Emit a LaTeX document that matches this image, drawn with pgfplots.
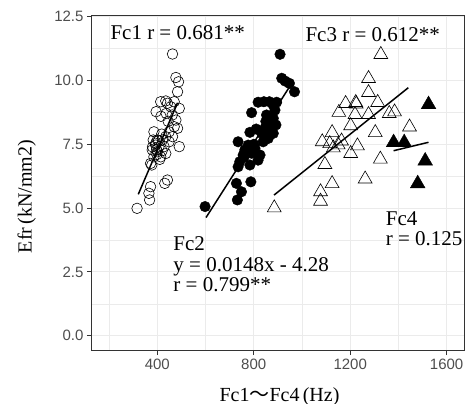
\documentclass[border=0pt]{standalone}
\usepackage{pgfplots}
\pgfplotsset{compat=1.18}
\usepackage{fontspec}
\setmainfont{Liberation Serif}
\newfontfamily\ticksf{Liberation Sans}
\newfontfamily\cjk{Noto Sans CJK JP}
\usetikzlibrary{calc}
\definecolor{gridgray}{HTML}{EBEBEB}
\definecolor{tickgray}{HTML}{4D4D4D}
\definecolor{frame}{HTML}{333333}
\newcommand{\annot}{\fontsize{21bp}{21bp}\selectfont}
\newcommand{\labfont}{\fontsize{20bp}{20bp}\selectfont}

\begin{document}
\begin{tikzpicture}
\begin{axis}[
  name=ax,
  scale only axis,
  width=372.5bp, height=335.7bp,
  xmin=127, xmax=1672,
  ymin=-0.59, ymax=12.57,
  xtick={400,800,1200,1600},
  ytick={0,2.5,5,7.5,10,12.5},
  minor xtick={200,600,1000,1400},
  minor ytick={1.25,3.75,6.25,8.75,11.25},
  grid=both,
  major grid style={draw=gridgray, line width=1bp},
  minor grid style={draw=gridgray, line width=0.5bp},
  axis line style={draw=frame, line width=0.8bp},
  tick align=outside,
  xtick pos=left, ytick pos=left,
  major tick length=4.5bp,
  minor tick length=0pt,
  tick style={draw=frame, line width=0.8bp},
  ticklabel style={font=\ticksf\fontsize{15bp}{15bp}\selectfont, text=tickgray},
  /pgf/number format/assume math mode=true,
  xticklabel style={/pgf/number format/1000 sep={}},
  yticklabel style={/pgf/number format/.cd, fixed, fixed zerofill, precision=1},
  clip=false,
]
% Fc1
\addplot[only marks, mark=o, mark size=5.3bp, mark options={draw=black, line width=0.6bp}] coordinates {
(463,11.04) (477,10.12) (488,9.95) (484,9.56) (491,8.91) (414,9.17) (442,9.11) (470,9.17)
(435,9.20) (456,8.97) (395,8.78) (437,8.71) (462,8.65) (477,8.45) (470,8.19) (484,8.13)
(449,7.99) (386,7.99) (435,7.80) (463,7.80) (383,7.67) (421,7.67) (400,7.67) (449,7.60)
(393,7.54) (393,7.47) (407,7.41) (428,7.41) (491,7.41) (379,7.28) (400,7.21) (435,7.14)
(414,7.01) (386,7.01) (410,6.91) (372,6.75) (377,6.69) (442,6.10) (431,5.97) (372,5.84)
(365,5.58) (368,5.32) (316,4.99) (418,7.90) (405,7.65) (380,7.40) (397,7.30) (445,8.40)
(415,8.60) (398,7.10) (420,7.25)
};
% Fc2
\addplot[only marks, mark=*, mark size=5.3bp, mark options={draw=black, fill=black}] coordinates {
(909,11.03) (916,10.09) (930,9.98) (948,9.89) (969,9.56) (818,9.15) (842,9.17) (895,9.15)
(865,9.17) (791,8.74) (888,8.84) (880,9.05) (853,8.65) (881,8.52) (872,8.26) (892,8.26)
(846,8.13) (833,7.93) (881,7.93) (784,7.97) (860,7.73) (839,7.60) (735,7.60) (777,7.47)
(763,7.28) (805,7.34) (756,7.08) (791,7.15) (826,7.08) (818,6.88) (742,6.82) (784,6.69)
(735,6.62) (728,5.97) (788,6.03) (749,5.64) (732,5.32) (598,5.06) (870,8.00) (855,7.80)
(770,7.20) (800,7.50) (760,7.00) (850,8.40) (810,8.10)
};
% Fc3
\addplot[only marks, mark=triangle, mark size=8bp, mark options={draw=black, line width=0.6bp}] coordinates {
(1327,11.02) (1276,10.08) (1276,9.53) (1314,9.14) (1223,9.14) (1181,9.10) (1225,9.08)
(1153,8.75) (1220,8.67) (1276,8.67) (1362,8.71) (1384,8.77) (1202,8.23) (1446,8.18)
(1125,7.96) (1304,7.96) (1084,7.60) (1164,7.63) (1150,7.48) (1115,7.53) (1230,7.44)
(1130,7.36) (1202,7.14) (1325,6.92) (1095,6.71) (1125,5.96) (1262,6.14) (1077,5.64)
(1077,5.27) (885,5.01)
};
% Fc4
\addplot[only marks, mark=triangle*, mark size=8.5bp, mark options={draw=black, fill=black}] coordinates {
(1525,9.06) (1380,7.57) (1424,7.57) (1511,6.85) (1480,5.96)
};
% regression lines
\addplot[black, line width=1.5bp, no marks] coordinates {(321,5.54) (484,9.13)};
\addplot[black, line width=1.5bp, no marks] coordinates {(602,4.63) (950,9.78)};
\addplot[black, line width=1.5bp, no marks] coordinates {(884,5.51) (1441,9.72)};
\addplot[black, line width=1.5bp, no marks] coordinates {(1380,7.25) (1525,7.58)};
% annotations
\node[anchor=base west, inner sep=0pt, font=\annot] at (axis cs:205,11.61) {Fc1 r = 0.681**};
\node[anchor=base west, inner sep=0pt, font=\annot] at (axis cs:1014,11.52) {Fc3 r = 0.612**};
\node[anchor=base west, inner sep=0pt, font=\annot] at (axis cs:466,3.33) {Fc2};
\node[anchor=base west, inner sep=0pt, font=\annot] at (axis cs:466,2.51) {y = 0.0148x - 4.28};
\node[anchor=base west, inner sep=0pt, font=\annot] at (axis cs:466,1.72) {r = 0.799**};
\node[anchor=base west, inner sep=0pt, font=\annot] at (axis cs:1347,4.33) {Fc4};
\node[anchor=base west, inner sep=0pt, font=\annot] at (axis cs:1347,3.55) {r = 0.125};
\end{axis}
\node[anchor=base west, inner sep=0pt, font=\labfont] at ($(ax.south west)+(127.8bp,-50.5bp)$)
  {Fc1{\cjk ～}Fc4\,(Hz)};
\node[rotate=90, anchor=base west, inner sep=0pt, font=\labfont] at ($(ax.south west)+(-59.8bp,97.4bp)$)
  {Efr\,(kN/mm2)};
\pgfresetboundingbox
\path ($(ax.south west)+(-91.5bp,-53.3bp)$) rectangle ($(ax.north east)+(3bp,15bp)$);
\end{tikzpicture}
\end{document}
